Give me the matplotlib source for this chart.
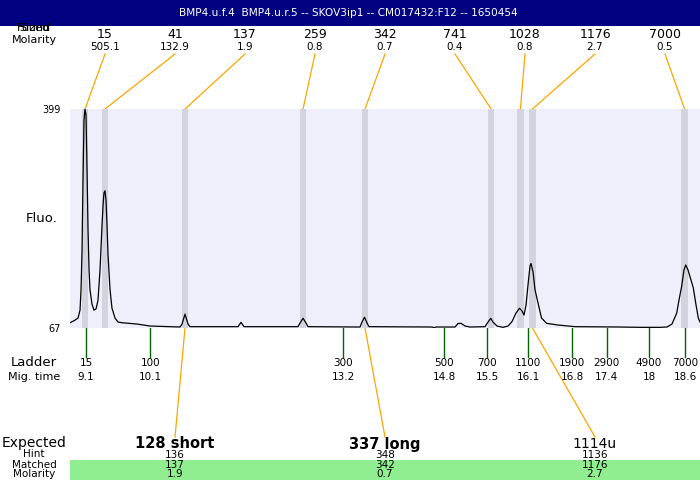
import matplotlib
matplotlib.use('Agg')
import matplotlib.pyplot as plt
from matplotlib.patches import Rectangle

title = "BMP4.u.f.4  BMP4.u.r.5 -- SKOV3ip1 -- CM017432:F12 -- 1650454"

# electropherogram trace: migration time vs fluorescence
trace_time = [8.846, 8.910, 8.973, 9.005, 9.021, 9.037, 9.052, 9.068, 9.084, 9.100,
              9.116, 9.132, 9.148, 9.163, 9.195, 9.227, 9.259, 9.290, 9.322, 9.354,
              9.370, 9.385, 9.401, 9.417, 9.433, 9.449, 9.481, 9.512, 9.560, 9.608,
              9.671, 9.909, 10.115, 10.432, 10.591, 10.623, 10.670, 10.718, 10.749, 11.511,
              11.558, 11.606, 12.462, 12.494, 12.542, 12.589, 12.621, 13.446, 13.477, 13.517,
              13.557, 13.588, 14.588, 14.619, 14.651, 14.952, 15.000, 15.048, 15.111, 15.190,
              15.428, 15.476, 15.519, 15.555, 15.619, 15.714, 15.793, 15.856, 15.920, 15.975,
              16.015, 16.047, 16.079, 16.110, 16.142, 16.158, 16.190, 16.221, 16.269, 16.324,
              16.404, 16.586, 16.856, 17.569, 17.887, 18.204, 18.315, 18.394, 18.469, 18.505,
              18.548, 18.584, 18.612, 18.648, 18.695, 18.732, 18.775, 18.811, 18.838]
trace_fluo = [75, 78, 82, 94, 125, 185, 291, 382, 399, 390,
              307, 216, 155, 125, 103, 94, 96, 109, 155, 223,
              253, 272, 275, 261, 223, 178, 125, 97, 82, 76,
              75, 73, 70, 69, 68.5, 73, 88, 73, 69, 69,
              75.6, 69, 69, 74.6, 81.7, 74.6, 69, 68.5, 76, 83.2,
              74.6, 69, 68.5, 67.5, 68.5, 68.5, 73.8, 74.1, 70, 68.5,
              69, 76, 81.7, 76, 70, 68, 70, 76.6, 89.7, 96.9,
              92.8, 86.7, 101.9, 132.2, 161, 164.8, 151.9, 125, 104.9, 82.2,
              74.1, 71.5, 69, 68.5, 68, 68, 68.5, 73, 89.7, 109.4,
              130.7, 154.9, 162.5, 154.9, 139.8, 127.6, 101.9, 82.2, 76]

# found peaks
peak_sizes = ['15', '41', '137', '259', '342', '741', '1028', '1176', '7000']
peak_molarity = ['505.1', '132.9', '1.9', '0.8', '0.7', '0.4', '0.8', '2.7', '0.5']
peak_times = [9.084, 9.401, 10.670, 12.542, 13.525, 15.525, 15.990, 16.180, 18.593]

# ladder
ladder_labels = ['15', '100', '300', '500', '700', '1100', '1900', '2900', '4900', '7000']
ladder_mig_labels = ['9.1', '10.1', '13.2', '14.8', '15.5', '16.1', '16.8', '17.4', '18', '18.6']
ladder_times = [9.10, 10.12, 13.18, 14.78, 15.46, 16.11, 16.81, 17.36, 18.03, 18.60]

# expected / matched
expected_labels = ['128 short', '337 long', '1114u']
expected_bold = [True, True, False]
hint_labels = ['136', '348', '1136']
matched_labels = ['137', '342', '1176']
matched_molarity = ['1.9', '0.7', '2.7']
matched_times = [10.670, 13.525, 16.180]

y_ticks = [67, 399]

W, H = 700, 480
fig = plt.figure(figsize=(7, 4.8), dpi=100)
ov = fig.add_axes([0, 0, 1, 1])
ov.set_xlim(0, W)
ov.set_ylim(H, 0)
ov.axis('off')
ov.patch.set_visible(False)

L, R, T, B = 70, 700, 109, 328
ax = fig.add_axes([L / W, (H - B) / H, (R - L) / W, (B - T) / H])
ax.set_xlim(8.846, 18.838)
ax.set_ylim(y_ticks[0], y_ticks[1])
ax.set_facecolor('#EFEFFC')
for s in ax.spines.values():
    s.set_visible(False)
ax.set_xticks([])
ax.set_yticks(y_ticks)
ax.set_yticklabels([str(v) for v in y_ticks], fontsize=7)
ax.tick_params(axis='y', length=0, pad=7)

band_color = '#D3D3DF'
for t in peak_times:
    ax.axvspan(t - 0.05, t + 0.05, color=band_color, lw=0, zorder=1)
ax.plot(trace_time, trace_fluo, color='black', lw=0.9, zorder=3)


def to_px(t, f):
    p = ax.transData.transform((t, f))
    return ov.transData.inverted().transform(p)


orange = '#FFA500'
# title bar
ov.add_patch(Rectangle((0, 0), W, 26, color='#000080', lw=0))
ov.text(W / 2 - 2, 13, title, color='white', ha='center', va='center', fontsize=7.6)

# left labels
ov.text(34, 28, 'Found', ha='center', va='center', fontsize=8)
ov.text(34, 28, 'Sized', ha='center', va='center', fontsize=8)
ov.text(34, 40, 'Molarity', ha='center', va='center', fontsize=8)
ov.text(42, 218, 'Fluo.', ha='center', va='center', fontsize=9.5)
ov.text(34, 363, 'Ladder', ha='center', va='center', fontsize=9.5)
ov.text(34, 377, 'Mig. time', ha='center', va='center', fontsize=8)
ov.text(34, 443, 'Expected', ha='center', va='center', fontsize=10)
ov.text(34, 454, 'Hint', ha='center', va='center', fontsize=7.5)
ov.text(34, 465, 'Matched', ha='center', va='center', fontsize=7.5)
ov.text(34, 474, 'Molarity', ha='center', va='center', fontsize=7.5)

# found peaks with leader lines
for i, (s, m, t) in enumerate(zip(peak_sizes, peak_molarity, peak_times)):
    x = 105 + 70 * i
    ov.text(x, 34, s, ha='center', va='center', fontsize=9)
    ov.text(x, 47, m, ha='center', va='center', fontsize=7.5)
    bx, by = to_px(t, y_ticks[1])
    ov.plot([x, bx], [54, by], color=orange, lw=0.9)

# ladder ticks
for lab, mig, t in zip(ladder_labels, ladder_mig_labels, ladder_times):
    bx, by = to_px(t, y_ticks[0])
    ov.plot([bx, bx], [by, 357], color='#006400', lw=1)
    ov.text(bx, 363, lab, ha='center', va='center', fontsize=7.5)
    ov.text(bx, 377, mig, ha='center', va='center', fontsize=7.5)

# matched band
ov.add_patch(Rectangle((L, 460), R - L, 20, color='#90EE90', lw=0))

cols = [1, 4, 7]
for c, e, b, h, m, mm, t in zip(cols, expected_labels, expected_bold, hint_labels,
                                matched_labels, matched_molarity, matched_times):
    x = 105 + 70 * c
    bx, by = to_px(t, y_ticks[0])
    ov.plot([bx, x], [by, 437], color=orange, lw=0.9)
    ov.text(x, 444, e, ha='center', va='center', fontsize=10.5 if b else 10,
            fontweight='bold' if b else 'normal')
    ov.text(x, 455, h, ha='center', va='center', fontsize=7.5)
    ov.text(x, 465, m, ha='center', va='center', fontsize=7.5)
    ov.text(x, 474, mm, ha='center', va='center', fontsize=7.5)

fig.savefig('out.png', dpi=100)
